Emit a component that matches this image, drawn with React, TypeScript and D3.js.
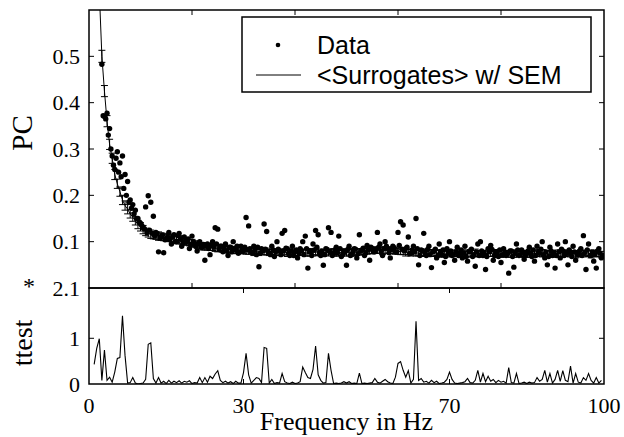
import React from 'react';
import * as d3 from 'd3';

// Frequency grid (Hz): 1.0, 1.5, ... 99.5  and the intermediate bins 1.25, 1.75, ... 99.75
const freqs: number[] = d3.range(1, 100, 0.5);
const freqsQ: number[] = d3.range(1.25, 100, 0.5);

// Phase coherence of the data (dots), bins at 1.0, 1.5, ...
const dataPC: number[] = [
  0.98, 0.76, 0.64, 0.483, 0.37, 0.377, 0.344, 0.285, 0.256, 0.294,
  0.27, 0.285, 0.245, 0.23, 0.19, 0.18, 0.168, 0.15, 0.14, 0.13,
  0.175, 0.199, 0.185, 0.155, 0.12, 0.078, 0.11, 0.076, 0.105, 0.12,
  0.095, 0.115, 0.1, 0.118, 0.09, 0.11, 0.1, 0.085, 0.112, 0.095,
  0.08, 0.1, 0.088, 0.06, 0.095, 0.072, 0.1, 0.13, 0.127, 0.09,
  0.078, 0.095, 0.07, 0.088, 0.1, 0.082, 0.075, 0.09, 0.08, 0.152,
  0.134, 0.078, 0.09, 0.072, 0.046, 0.085, 0.138, 0.122, 0.075, 0.09,
  0.068, 0.1, 0.08, 0.118, 0.124, 0.085, 0.07, 0.09, 0.078, 0.065,
  0.085, 0.1, 0.112, 0.043, 0.08, 0.095, 0.124, 0.115, 0.07, 0.049,
  0.085, 0.13, 0.12, 0.075, 0.088, 0.112, 0.068, 0.08, 0.049, 0.09,
  0.072, 0.085, 0.065, 0.115, 0.082, 0.07, 0.092, 0.06, 0.085, 0.078,
  0.12, 0.095, 0.07, 0.1, 0.085, 0.065, 0.09, 0.078, 0.12, 0.143,
  0.136, 0.085, 0.11, 0.075, 0.09, 0.15, 0.05, 0.082, 0.118, 0.07,
  0.09, 0.044, 0.08, 0.065, 0.095, 0.072, 0.055, 0.085, 0.1, 0.07,
  0.06, 0.088, 0.075, 0.065, 0.09, 0.058, 0.08, 0.068, 0.047, 0.095,
  0.1, 0.07, 0.04, 0.085, 0.092, 0.06, 0.078, 0.068, 0.055, 0.085,
  0.07, 0.032, 0.08, 0.045, 0.095, 0.07, 0.082, 0.062, 0.075, 0.088,
  0.068, 0.058, 0.09, 0.075, 0.1, 0.065, 0.05, 0.088, 0.07, 0.043,
  0.095, 0.065, 0.08, 0.1, 0.05, 0.075, 0.09, 0.06, 0.072, 0.085,
  0.113, 0.04, 0.095, 0.07, 0.058, 0.043, 0.085, 0.065,
];

// Phase coherence of the data (dots), bins at 1.25, 1.75, ...
const dataPCq: number[] = [
  0.85, 0.7, 0.63, 0.372, 0.365, 0.33, 0.3, 0.265, 0.28, 0.25,
  0.24, 0.215, 0.2, 0.185, 0.172, 0.16, 0.15, 0.142, 0.135, 0.128,
  0.12, 0.125, 0.118, 0.112, 0.117, 0.108, 0.114, 0.104, 0.11, 0.106,
  0.11, 0.1, 0.113, 0.105, 0.097, 0.102, 0.106, 0.094, 0.1, 0.09,
  0.095, 0.088, 0.094, 0.09, 0.085, 0.092, 0.088, 0.095, 0.083, 0.09,
  0.086, 0.08, 0.088, 0.078, 0.085, 0.09, 0.078, 0.084, 0.088, 0.082,
  0.085, 0.076, 0.082, 0.088, 0.075, 0.08, 0.084, 0.078, 0.072, 0.082,
  0.078, 0.084, 0.072, 0.08, 0.086, 0.075, 0.08, 0.07, 0.082, 0.076,
  0.08, 0.072, 0.085, 0.078, 0.07, 0.082, 0.088, 0.076, 0.08, 0.072,
  0.083, 0.078, 0.07, 0.082, 0.076, 0.085, 0.072, 0.079, 0.083, 0.07,
  0.078, 0.084, 0.074, 0.08, 0.086, 0.076, 0.082, 0.088, 0.078, 0.084,
  0.088, 0.079, 0.085, 0.09, 0.076, 0.083, 0.087, 0.078, 0.092, 0.084,
  0.08, 0.088, 0.074, 0.082, 0.078, 0.085, 0.07, 0.08, 0.076, 0.083,
  0.072, 0.078, 0.084, 0.07, 0.077, 0.082, 0.068, 0.076, 0.08, 0.072,
  0.078, 0.07, 0.082, 0.075, 0.068, 0.079, 0.084, 0.072, 0.078, 0.07,
  0.08, 0.074, 0.068, 0.078, 0.083, 0.07, 0.076, 0.082, 0.072, 0.078,
  0.074, 0.08, 0.068, 0.076, 0.082, 0.072, 0.078, 0.07, 0.08, 0.074,
  0.082, 0.07, 0.077, 0.084, 0.072, 0.078, 0.068, 0.08, 0.075, 0.07,
  0.078, 0.084, 0.07, 0.076, 0.082, 0.068, 0.078, 0.074, 0.08, 0.07,
  0.076, 0.082, 0.07, 0.078, 0.072, 0.08, 0.075, 0.07,
];

// Mean over surrogates
const surrMean: number[] = [
  0.95, 0.78, 0.64, 0.5, 0.425, 0.36, 0.31, 0.28, 0.245, 0.225,
  0.208, 0.19, 0.178, 0.17, 0.16, 0.153, 0.145, 0.137, 0.132, 0.126,
  0.121, 0.118, 0.116, 0.114, 0.113, 0.112, 0.111, 0.11, 0.109, 0.108,
  0.107, 0.106, 0.105, 0.104, 0.103, 0.101, 0.1, 0.098, 0.097, 0.095,
  0.093, 0.092, 0.09, 0.089, 0.088, 0.088, 0.087, 0.086, 0.086, 0.085,
  0.084, 0.084, 0.083, 0.083, 0.082, 0.082, 0.081, 0.081, 0.08, 0.08,
  0.079, 0.08, 0.078, 0.079, 0.077, 0.078, 0.079, 0.077, 0.078, 0.076,
  0.077, 0.078, 0.076, 0.077, 0.078, 0.076, 0.077, 0.075, 0.077, 0.076,
  0.077, 0.078, 0.076, 0.075, 0.077, 0.076, 0.078, 0.077, 0.075, 0.076,
  0.077, 0.076, 0.078, 0.077, 0.076, 0.075, 0.077, 0.078, 0.076, 0.077,
  0.076, 0.078, 0.077, 0.079, 0.078, 0.08, 0.079, 0.081, 0.08, 0.082,
  0.081, 0.082, 0.08, 0.081, 0.082, 0.08, 0.081, 0.079, 0.08, 0.078,
  0.079, 0.077, 0.078, 0.076, 0.077, 0.076, 0.075, 0.076, 0.077, 0.075,
  0.076, 0.074, 0.075, 0.076, 0.074, 0.075, 0.073, 0.074, 0.076, 0.075,
  0.074, 0.075, 0.076, 0.074, 0.075, 0.073, 0.074, 0.075, 0.076, 0.074,
  0.075, 0.074, 0.073, 0.075, 0.074, 0.076, 0.075, 0.074, 0.073, 0.075,
  0.074, 0.075, 0.073, 0.074, 0.076, 0.075, 0.074, 0.073, 0.075, 0.074,
  0.073, 0.075, 0.074, 0.076, 0.075, 0.074, 0.073, 0.075, 0.074, 0.073,
  0.075, 0.074, 0.073, 0.075, 0.076, 0.074, 0.075, 0.073, 0.074, 0.075,
  0.074, 0.076, 0.075, 0.073, 0.074, 0.075, 0.073, 0.072,
];

// Standard error of the surrogate mean
const surrSEM: number[] = [
  0.02, 0.018, 0.015, 0.013, 0.012, 0.012, 0.011, 0.011, 0.011, 0.01,
  0.01, 0.01, 0.01, 0.01, 0.009, 0.009, 0.009, 0.009, 0.009, 0.009,
  0.008, 0.008, 0.009, 0.008, 0.008, 0.009, 0.008, 0.008, 0.007, 0.008,
  0.007, 0.008, 0.007, 0.009, 0.008, 0.007, 0.008, 0.007, 0.008, 0.007,
  0.007, 0.006, 0.008, 0.007, 0.006, 0.007, 0.006, 0.007, 0.008, 0.006,
  0.007, 0.006, 0.007, 0.006, 0.008, 0.007, 0.006, 0.007, 0.006, 0.007,
  0.006, 0.007, 0.008, 0.006, 0.007, 0.006, 0.007, 0.006, 0.008, 0.007,
  0.006, 0.007, 0.006, 0.007, 0.006, 0.008, 0.007, 0.006, 0.007, 0.006,
  0.007, 0.006, 0.007, 0.006, 0.008, 0.007, 0.006, 0.007, 0.006, 0.007,
  0.006, 0.007, 0.006, 0.008, 0.007, 0.006, 0.007, 0.006, 0.007, 0.008,
  0.007, 0.006, 0.007, 0.006, 0.007, 0.008, 0.006, 0.007, 0.006, 0.007,
  0.006, 0.007, 0.008, 0.006, 0.007, 0.006, 0.007, 0.006, 0.007, 0.006,
  0.007, 0.008, 0.006, 0.007, 0.006, 0.007, 0.006, 0.008, 0.007, 0.006,
  0.007, 0.006, 0.007, 0.006, 0.007, 0.008, 0.006, 0.007, 0.006, 0.007,
  0.006, 0.007, 0.006, 0.008, 0.007, 0.006, 0.007, 0.006, 0.008, 0.007,
  0.006, 0.007, 0.006, 0.007, 0.006, 0.007, 0.008, 0.006, 0.007, 0.006,
  0.007, 0.006, 0.007, 0.008, 0.006, 0.007, 0.006, 0.007, 0.006, 0.008,
  0.006, 0.007, 0.006, 0.007, 0.008, 0.006, 0.007, 0.006, 0.007, 0.006,
  0.007, 0.008, 0.006, 0.007, 0.006, 0.007, 0.006, 0.008, 0.007, 0.006,
  0.007, 0.006, 0.007, 0.008, 0.006, 0.007, 0.006, 0.007,
];

// t-test statistic (bottom panel)
const ttest: number[] = [
  0.43, 0.78, 0.99, 0.08, 0.74, 0.08, 0.15, 0.04, 0.26, 0.56,
  0.58, 1.49, 0.62, 0.02, 0.03, 0.14, 0.02, 0.0, 0.01, 0.02,
  0.1, 0.87, 0.9, 0.12, 0.02, 0.14, 0.02, 0.06, 0.01, 0.08,
  0.02, 0.06, 0.03, 0.07, 0.02, 0.06, 0.04, 0.07, 0.01, 0.03,
  0.02, 0.14, 0.03, 0.14, 0.04, 0.17, 0.12, 0.22, 0.29, 0.08,
  0.03, 0.06, 0.02, 0.05, 0.01, 0.06, 0.02, 0.02, 0.25, 0.67,
  0.2, 0.02, 0.08, 0.14, 0.12, 0.03, 0.8, 0.78, 0.02, 0.1,
  0.01, 0.03, 0.02, 0.23, 0.05, 0.02, 0.01, 0.04, 0.01, 0.02,
  0.05, 0.37, 0.25, 0.14, 0.12, 0.32, 0.83, 0.2, 0.08, 0.02,
  0.03, 0.67, 0.3, 0.01, 0.02, 0.01, 0.02, 0.05, 0.02, 0.05,
  0.01, 0.02, 0.01, 0.24, 0.01, 0.02, 0.01, 0.02, 0.03, 0.12,
  0.04, 0.02, 0.06, 0.1, 0.05, 0.02, 0.01, 0.15, 0.45, 0.49,
  0.3, 0.15, 0.29, 0.02, 0.1, 1.37, 0.08, 0.12, 0.04, 0.06,
  0.02, 0.08, 0.03, 0.06, 0.01, 0.02, 0.04, 0.1, 0.26, 0.1,
  0.02, 0.01, 0.02, 0.03, 0.05, 0.12, 0.03, 0.02, 0.08, 0.3,
  0.04, 0.23, 0.05, 0.17, 0.06, 0.1, 0.03, 0.08, 0.04, 0.06,
  0.02, 0.36, 0.03, 0.02, 0.23, 0.01, 0.02, 0.04, 0.01, 0.04,
  0.02, 0.03, 0.14, 0.06, 0.1, 0.3, 0.04, 0.23, 0.02, 0.1,
  0.3, 0.06, 0.29, 0.08, 0.05, 0.39, 0.02, 0.23, 0.04, 0.02,
  0.14, 0.08, 0.23, 0.08, 0.02, 0.14, 0.02, 0.08,
];

const xTickValues: number[] = [0, 30, 70, 100];
const xTickLabels: string[] = ['0', '30', '70', '100'];
const topXTicks: number[] = [20, 40, 60, 80];
const topYTicks: number[] = [0.1, 0.2, 0.3, 0.4, 0.5];
const topYLabels: string[] = ['0.1', '0.2', '0.3', '0.4', '0.5'];
const botYTicks: number[] = [0, 1, 2.1];
const botYLabels: string[] = ['0', '1', '2.1'];
const legendLabels: string[] = ['Data', '<Surrogates> w/ SEM'];

const SERIF = '"Liberation Serif", "Times New Roman", Times, serif';
const SANS = '"Liberation Sans", Arial, Helvetica, sans-serif';

export default function App() {
  const W = 624;
  const H = 437;
  const L = 89, R = 604, T = 10, MID = 288, B = 384;

  const x = d3.scaleLinear().domain([0, 100]).range([L, R]);
  const yTop = d3.scaleLinear().domain([0, 0.6]).range([MID, T]);
  const yBot = d3.scaleLinear().domain([0, 2.1]).range([B, MID]);

  const meanLine = d3.line<number>()
    .x((_, i) => x(freqs[i]))
    .y((d) => yTop(d))(surrMean) || '';
  const tLine = d3.line<number>()
    .x((_, i) => x(freqs[i]))
    .y((d) => yBot(d))(ttest) || '';

  const cap = 3.5;
  let errPath = '';
  surrMean.forEach((m, i) => {
    const px = x(freqs[i]);
    const y1 = yTop(m - surrSEM[i]);
    const y2 = yTop(m + surrSEM[i]);
    errPath += `M${px},${y1}V${y2}M${px - cap},${y1}H${px + cap}M${px - cap},${y2}H${px + cap}`;
  });

  const tk = 5;
  const dotR = 2.7;

  return (
    <svg width={W} height={H} style={{ position: 'absolute', left: 0, top: 0, background: '#fff' }}>
      <defs>
        <clipPath id="clipTop">
          <rect x={L} y={T} width={R - L} height={MID - T} />
        </clipPath>
        <clipPath id="clipBot">
          <rect x={L} y={MID} width={R - L} height={B - MID} />
        </clipPath>
      </defs>

      {/* top panel data */}
      <g clipPath="url(#clipTop)">
        <path d={errPath} stroke="#000" strokeWidth={1} fill="none" />
        <path d={meanLine} stroke="#000" strokeWidth={1} fill="none" />
        {dataPC.map((v, i) => (
          <circle key={'a' + i} cx={x(freqs[i])} cy={yTop(v)} r={dotR} fill="#000" />
        ))}
        {dataPCq.map((v, i) => (
          <circle key={'b' + i} cx={x(freqsQ[i])} cy={yTop(v)} r={dotR} fill="#000" />
        ))}
      </g>

      {/* bottom panel data */}
      <g clipPath="url(#clipBot)">
        <path d={tLine} stroke="#000" strokeWidth={1.1} fill="none" />
      </g>

      {/* frames */}
      <rect x={L} y={T} width={R - L} height={MID - T} fill="none" stroke="#000" strokeWidth={1.5} />
      <rect x={L} y={MID} width={R - L} height={B - MID} fill="none" stroke="#000" strokeWidth={1.5} />

      {/* top panel ticks */}
      {topXTicks.map((t) => (
        <g key={'tx' + t} stroke="#000" strokeWidth={1}>
          <line x1={x(t)} x2={x(t)} y1={T} y2={T + tk} />
          <line x1={x(t)} x2={x(t)} y1={MID} y2={MID - tk} />
        </g>
      ))}
      {topYTicks.map((t, i) => (
        <g key={'ty' + t}>
          <line x1={L} x2={L + tk} y1={yTop(t)} y2={yTop(t)} stroke="#000" strokeWidth={1} />
          <line x1={R} x2={R - tk} y1={yTop(t)} y2={yTop(t)} stroke="#000" strokeWidth={1} />
          <text x={80} y={yTop(t)} dy="0.35em" textAnchor="end" fontFamily={SERIF} fontSize={22}>
            {topYLabels[i]}
          </text>
        </g>
      ))}

      {/* bottom panel ticks */}
      {xTickValues.map((t, i) => (
        <g key={'bx' + t}>
          {t > 0 && t < 100 && (
            <>
              <line x1={x(t)} x2={x(t)} y1={MID} y2={MID + tk} stroke="#000" strokeWidth={1} />
              <line x1={x(t)} x2={x(t)} y1={B} y2={B - tk} stroke="#000" strokeWidth={1} />
            </>
          )}
          <text x={x(t)} y={413} textAnchor="middle" fontFamily={SERIF} fontSize={22}>
            {xTickLabels[i]}
          </text>
        </g>
      ))}
      {botYTicks.map((t, i) => (
        <g key={'by' + t}>
          {t > 0 && t < 2.1 && (
            <>
              <line x1={L} x2={L + tk} y1={yBot(t)} y2={yBot(t)} stroke="#000" strokeWidth={1} />
              <line x1={R} x2={R - tk} y1={yBot(t)} y2={yBot(t)} stroke="#000" strokeWidth={1} />
            </>
          )}
          <text x={80} y={yBot(t)} dy="0.35em" textAnchor="end" fontFamily={SERIF} fontSize={22}>
            {botYLabels[i]}
          </text>
        </g>
      ))}
      <text x={29} y={294} textAnchor="middle" fontFamily={SERIF} fontSize={24}>*</text>

      {/* axis titles */}
      <text transform="translate(32,133) rotate(-90)" textAnchor="middle" fontFamily={SERIF} fontSize={29}>PC</text>
      <text transform="translate(32,343) rotate(-90)" textAnchor="middle" fontFamily={SERIF} fontSize={28}>ttest</text>
      <text x={(L + R) / 2} y={430} textAnchor="middle" fontFamily={SERIF} fontSize={26}>Frequency in Hz</text>

      {/* legend */}
      <rect x={242} y={17} width={349} height={75} fill="#fff" stroke="#000" strokeWidth={1.5} />
      <circle cx={278} cy={45} r={2.3} fill="#000" />
      <line x1={256} x2={301} y1={75} y2={75} stroke="#000" strokeWidth={1} />
      <text x={317} y={54} fontFamily={SANS} fontSize={25}>{legendLabels[0]}</text>
      <text x={317} y={84} fontFamily={SANS} fontSize={25}>{legendLabels[1]}</text>
    </svg>
  );
}
